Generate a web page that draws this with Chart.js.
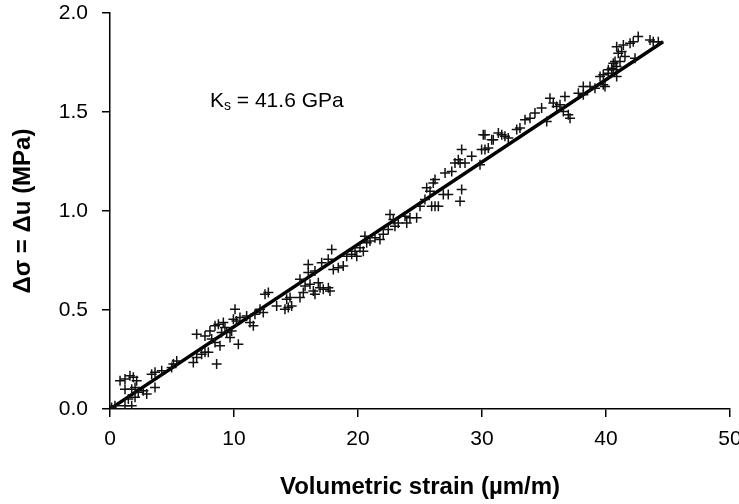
<!DOCTYPE html>
<html>
<head>
<meta charset="utf-8">
<script src="https://cdn.jsdelivr.net/npm/chart.js@4.4.1/dist/chart.umd.min.js"></script>
<style>
  html, body { margin: 0; padding: 0; background: #fff; }
  #wrap { width: 739px; height: 504px; }
</style>
</head>
<body>
<div id="wrap"><canvas id="ksChart"></canvas></div>
<script>
// volumetric strain (um/m) and stress change (MPa)
const strainX = [
  0.81, 1.21, 1.61, 1.88, 2.15, 1.21, 1.75, 2.02, 2.28, 2.69, 2.96, 2.02, 1.48, 1.21, 1.75, 0.13, 0.40,
  3.36, 3.63, 3.63, 4.17, 4.97, 5.11, 5.38, 6.72, 6.99, 7.39, 7.66, 7.93, 8.60, 6.99, 7.66, 8.06, 8.47,
  8.74, 9.14, 9.27, 9.00, 9.41, 9.81, 10.20, 9.68, 10.35, 8.87, 8.47, 8.20,
  10.08, 9.95, 10.48, 11.02, 11.29, 11.56, 11.69, 12.10, 12.36, 12.50, 12.77, 13.44, 14.25, 14.52, 14.38,
  14.65, 14.11, 15.32, 15.59, 15.32, 15.73, 15.99, 16.13, 16.40, 16.53, 16.80, 16.94, 17.20, 17.61, 17.74,
  15.99, 16.53, 17.07, 17.60, 17.88, 18.01, 18.41, 18.81, 19.09, 19.49, 19.76, 19.90, 20.16, 20.43, 20.70,
  20.56, 20.97, 21.37, 21.77, 22.04, 22.44, 22.58, 22.85, 22.98, 23.25, 23.79, 24.19, 24.73, 23.93, 25.00,
  25.40, 25.54, 25.81, 26.07, 26.21, 25.94, 26.21, 26.48, 26.88, 27.28, 28.23, 28.36, 27.02, 27.56, 27.82,
  28.09, 28.36, 28.23, 28.63, 29.17, 29.84, 29.97, 30.24, 30.51, 30.78,
  30.10, 30.24, 30.91, 31.32, 31.59, 31.85, 32.12, 32.80, 33.06, 33.47, 33.87, 34.27, 34.81, 35.22, 35.48,
  35.75, 36.02, 36.29, 36.69, 36.56, 36.96, 37.10, 37.77, 38.17, 38.71, 39.11, 39.52, 39.78, 40.19, 40.59,
  40.86, 40.86,
  38.17, 39.78, 39.92, 40.19, 40.46, 40.59, 40.73, 40.86, 40.99, 41.26, 41.13, 41.53, 41.40, 41.94, 42.20,
  42.60, 42.34, 43.55, 43.81, 44.22
];
const stressY = [
  0.143, 0.151, 0.168, 0.160, 0.143, 0.100, 0.100, 0.109, 0.084, 0.092, 0.076, 0.059, 0.050, 0.017, 0.017, 0.008, 0.017,
  0.176, 0.185, 0.109, 0.193, 0.210, 0.227, 0.243, 0.235, 0.260, 0.277, 0.286, 0.286, 0.227, 0.378, 0.369, 0.394, 0.420,
  0.428, 0.437, 0.412, 0.386, 0.386, 0.394, 0.445, 0.361, 0.327, 0.319, 0.336, 0.353,
  0.504, 0.453, 0.462, 0.470, 0.437, 0.420, 0.479, 0.504, 0.487, 0.579, 0.588, 0.520, 0.554, 0.563, 0.512,
  0.520, 0.504, 0.563, 0.588, 0.655, 0.621, 0.730, 0.630, 0.596, 0.579, 0.638, 0.613, 0.605, 0.613, 0.596,
  0.689, 0.697, 0.739, 0.756, 0.806, 0.705, 0.714, 0.722, 0.772, 0.781, 0.797, 0.772, 0.815, 0.797, 0.840,
  0.873, 0.848, 0.865, 0.856, 0.882, 0.907, 0.982, 0.957, 0.923, 0.940, 0.974, 0.966, 0.966, 0.940, 1.024,
  1.058, 1.117, 1.100, 1.142, 1.159, 1.024, 1.024, 1.024, 1.083, 1.083, 1.049, 1.108, 1.192, 1.200, 1.243,
  1.259, 1.310, 1.243, 1.243, 1.276, 1.234, 1.310, 1.385, 1.318, 1.360,
  1.385, 1.310, 1.360, 1.394, 1.385, 1.377, 1.369, 1.411, 1.419, 1.461, 1.469, 1.495, 1.520, 1.452, 1.570,
  1.545, 1.528, 1.537, 1.578, 1.503, 1.486, 1.469, 1.595, 1.587, 1.629, 1.620, 1.679, 1.637, 1.696, 1.713,
  1.730, 1.679,
  1.629, 1.688, 1.629, 1.713, 1.721, 1.746, 1.755, 1.830, 1.797, 1.805, 1.755, 1.780, 1.839, 1.847, 1.855,
  1.881, 1.772, 1.864, 1.855, 1.855
];

// fitted line, Ks = 41.6 GPa
const fitX = [0, 44.6];
const fitY = [0, 1.855];

const xTicks = [0, 10, 20, 30, 40, 50];
const yTicks = [0.0, 0.5, 1.0, 1.5, 2.0];

const fontFam = '"Liberation Sans", Arial, Helvetica, sans-serif';

const scatterPts = strainX.map((x, i) => ({ x: x, y: stressY[i] }));
const fitPts = fitX.map((x, i) => ({ x: x, y: fitY[i] }));

// draws the "Ks = 41.6 GPa" note with a subscript s
const ksLabel = {
  id: 'ksLabel',
  afterDraw(chart) {
    const ctx = chart.ctx;
    const area = chart.chartArea;
    let x = area.left + 100;
    const y = area.top + 94;
    ctx.save();
    ctx.fillStyle = '#000';
    ctx.textBaseline = 'alphabetic';
    ctx.font = '21px ' + fontFam;
    ctx.fillText('K', x, y);
    x += ctx.measureText('K').width;
    ctx.font = '14px ' + fontFam;
    ctx.fillText('s', x, y + 3);
    x += ctx.measureText('s').width;
    ctx.font = '21px ' + fontFam;
    ctx.fillText(' = 41.6 GPa', x, y);
    ctx.restore();
  }
};

new Chart(document.getElementById('ksChart'), {
  type: 'scatter',
  data: {
    datasets: [
      {
        label: 'data',
        data: scatterPts,
        pointStyle: 'cross',
        pointRadius: 5,
        pointBorderWidth: 1.5,
        borderColor: '#111',
        backgroundColor: '#111'
      },
      {
        label: 'fit',
        data: fitPts,
        showLine: true,
        pointRadius: 0,
        borderColor: '#000',
        borderWidth: 3.5
      }
    ]
  },
  options: {
    responsive: true,
    maintainAspectRatio: false,
    animation: false,
    layout: { padding: { top: 13, right: 9, left: 0, bottom: 0 } },
    plugins: {
      legend: { display: false },
      tooltip: { enabled: false }
    },
    scales: {
      x: {
        type: 'linear',
        min: 0,
        max: 50,
        afterFit(s) { s.height = 95; s.paddingRight = 0; s.paddingLeft = 0; },
        afterBuildTicks(s) { s.ticks = xTicks.map(v => ({ value: v })); },
        grid: { drawOnChartArea: false, drawTicks: true, tickLength: 8, color: '#000', lineWidth: 1.5 },
        border: { display: true, color: '#000', width: 1.5 },
        ticks: {
          color: '#000',
          padding: 10,
          font: { family: fontFam, size: 21 },
          callback: v => String(v)
        },
        title: {
          display: true,
          text: 'Volumetric strain (\u00b5m/m)',
          color: '#000',
          padding: { top: 0, bottom: 2 },
          font: { family: fontFam, size: 24, weight: 'bold' }
        }
      },
      y: {
        type: 'linear',
        min: 0,
        max: 2,
        afterFit(s) { s.width = 110; s.paddingTop = 0; s.paddingBottom = 0; },
        afterBuildTicks(s) { s.ticks = yTicks.map(v => ({ value: v })); },
        grid: { drawOnChartArea: false, drawTicks: true, tickLength: 8, color: '#000', lineWidth: 1.5 },
        border: { display: true, color: '#000', width: 1.5 },
        ticks: {
          color: '#000',
          padding: 14,
          font: { family: fontFam, size: 21 },
          callback: v => v.toFixed(1)
        },
        title: {
          display: true,
          text: '\u0394\u03c3 = \u0394u (MPa)',
          color: '#000',
          padding: { top: 9, bottom: 0 },
          font: { family: fontFam, size: 24, weight: 'bold' }
        }
      }
    }
  },
  plugins: [ksLabel]
});
</script>
</body>
</html>
